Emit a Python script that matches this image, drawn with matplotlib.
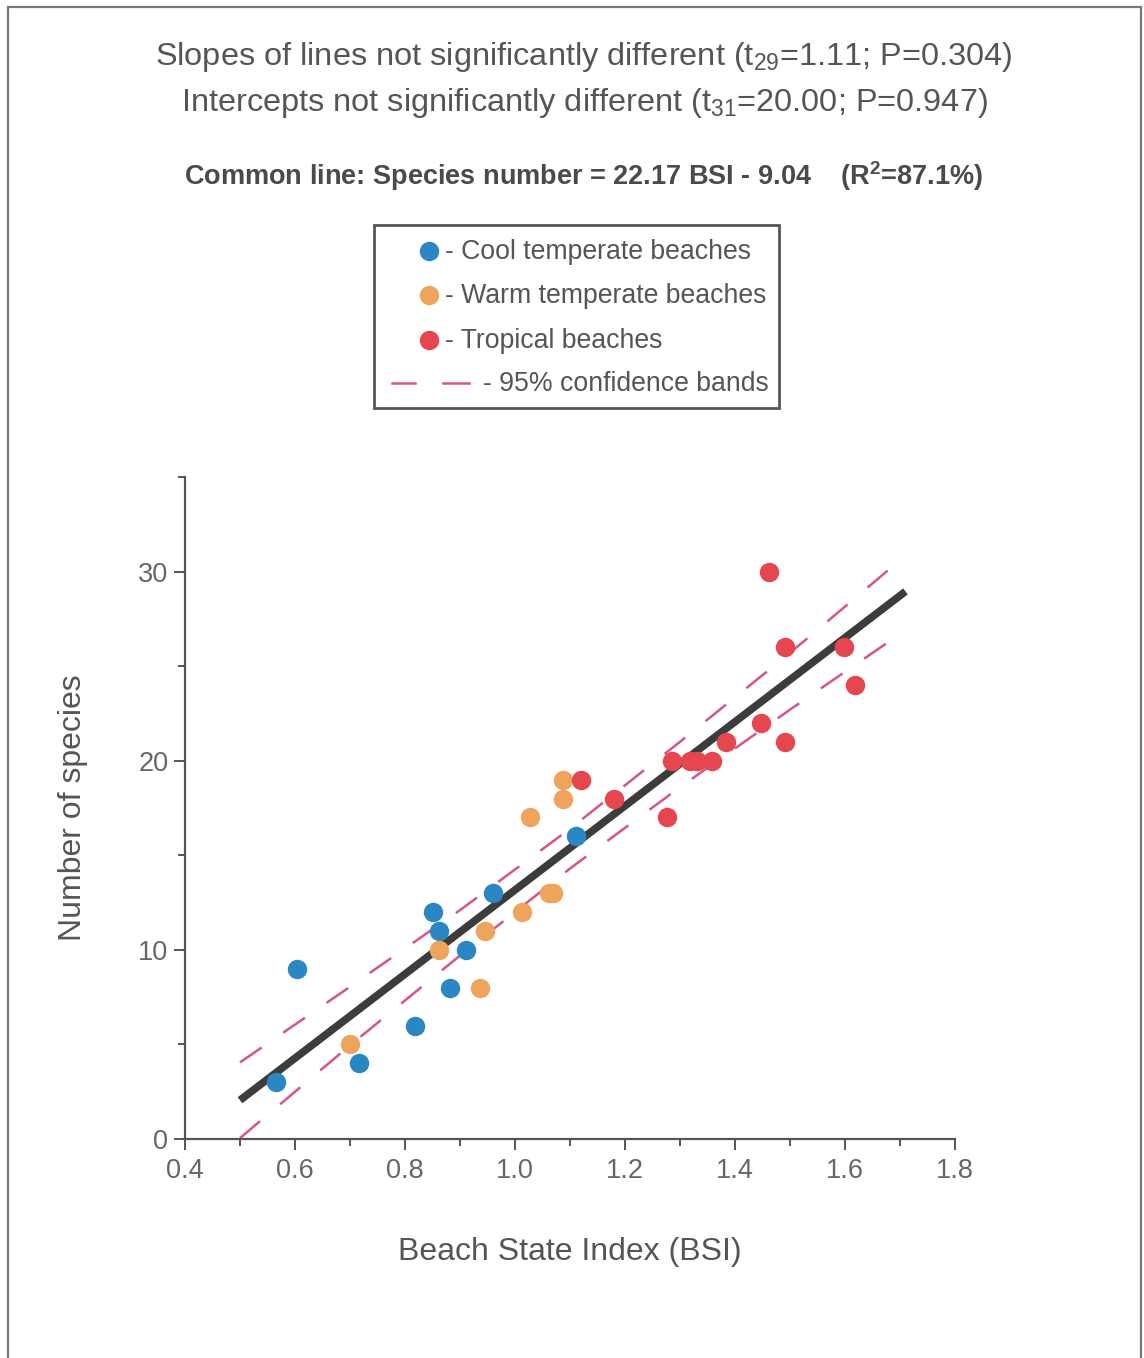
import matplotlib
matplotlib.use("Agg")
import matplotlib.pyplot as plt
from matplotlib.lines import Line2D
from matplotlib.patches import Rectangle
from matplotlib.ticker import MultipleLocator, FixedLocator

# ==================== data ====================
cool_bsi = [0.565, 0.604, 0.716, 0.818, 0.851, 0.862, 0.882, 0.911, 0.960, 1.111]
cool_species = [3, 9, 4, 6, 12, 11, 8, 10, 13, 16]

warm_bsi = [0.700, 0.862, 0.936, 0.945, 1.013, 1.062, 1.069, 1.027, 1.087, 1.087]
warm_species = [5, 10, 8, 11, 12, 13, 13, 17, 19, 18]

trop_bsi = [1.120, 1.180, 1.276, 1.285, 1.318, 1.330, 1.358, 1.384, 1.447, 1.462,
            1.491, 1.491, 1.598, 1.618]
trop_species = [19, 18, 17, 20, 20, 20, 20, 21, 22, 30, 26, 21, 26, 24]

# common line (Species number = 22.17 BSI - 9.04), end points as drawn
line_bsi = [0.50, 1.71]
line_species = [2.05, 28.95]

# 95% confidence bands
band_bsi = [0.5, 0.7, 0.9, 1.1, 1.3, 1.5, 1.7]
band_upper = [4.05, 8.05, 12.1, 16.4, 21.0, 25.7, 30.6]
band_lower = [0.05, 4.95, 9.7, 14.3, 18.6, 22.7, 26.7]

W, H = 1144, 1358
TXT = "#555555"
BLUE = "#2b87c4"
ORANGE = "#eea45c"
RED = "#e5464f"
PINK = "#d4548e"

plt.rcParams["font.family"] = ["Liberation Sans", "DejaVu Sans"]
plt.rcParams["mathtext.fontset"] = "custom"
plt.rcParams["mathtext.rm"] = "Liberation Sans"
plt.rcParams["mathtext.it"] = "Liberation Sans"
plt.rcParams["mathtext.bf"] = "Liberation Sans:bold"


def fx(x):
    return x / W


def fy(y):
    return 1 - y / H


fig = plt.figure(figsize=(W / 100, H / 100), dpi=100)
fig.patch.set_facecolor("white")

# outer frame
fig.add_artist(Rectangle((fx(8), fy(1400)), fx(1141) - fx(8), fy(7) - fy(1400),
                         transform=fig.transFigure, fill=False, edgecolor="#777777", lw=1.6))

# header text
fig.text(fx(584), fy(57), "Slopes of lines not significantly different (t$_{29}$=1.11; P=0.304)",
         ha="center", va="center", fontsize=23.4, color=TXT)
fig.text(fx(584), fy(103), "Intercepts not significantly different (t$_{31}$=20.00; P=0.947)",
         ha="center", va="center", fontsize=23.4, color=TXT)
fig.text(fx(584), fy(176), "Common line: Species number = 22.17 BSI - 9.04    (R$^{\\mathbf{2}}$=87.1%)",
         ha="center", va="center", fontsize=19.5, fontweight="bold", color="#4a4a4a")

# legend box, drawn by hand
fig.add_artist(Rectangle((fx(374), fy(408)), fx(779) - fx(374), fy(225) - fy(408),
                         transform=fig.transFigure, fill=False, edgecolor="#555555", lw=2))
leg_items = [(BLUE, "- Cool temperate beaches", 252),
             (ORANGE, "- Warm temperate beaches", 296),
             (RED, "- Tropical beaches", 341)]
for col, lab, yy in leg_items:
    fig.add_artist(Line2D([fx(429)], [fy(yy - 1)], transform=fig.transFigure, marker="o",
                          markersize=14, color=col, markeredgewidth=0, linestyle="none"))
    fig.text(fx(445), fy(yy), lab, ha="left", va="center", fontsize=19.2, color=TXT)
for x0, x1 in [(392, 415), (443, 469)]:
    fig.add_artist(Line2D([fx(x0), fx(x1)], [fy(383), fy(383)], transform=fig.transFigure,
                          color=PINK, lw=1.8))
fig.text(fx(483), fy(384), "- 95% confidence bands", ha="left", va="center", fontsize=19.2, color=TXT)

# ==================== the plot itself ====================
ax = fig.add_axes([fx(185), fy(1139), fx(955) - fx(185), fy(477) - fy(1139)])
ax.set_xlim(0.4, 1.8)
ax.set_ylim(0, 35)

ax.plot(band_bsi, band_upper, color=PINK, lw=1.8, dashes=(10.5, 10.5), zorder=2)
ax.plot(band_bsi, band_lower, color=PINK, lw=1.8, dashes=(10.5, 10.5), zorder=2)
ax.plot(line_bsi, line_species, color="#3c3c3c", lw=5.5, solid_capstyle="butt", zorder=2)

ax.plot(cool_bsi, cool_species, "o", color=BLUE, markersize=14, markeredgewidth=0, zorder=3)
ax.plot(warm_bsi, warm_species, "o", color=ORANGE, markersize=14, markeredgewidth=0, zorder=3)
ax.plot(trop_bsi, trop_species, "o", color=RED, markersize=14, markeredgewidth=0, zorder=3)

for s in ["top", "right"]:
    ax.spines[s].set_visible(False)
for s in ["left", "bottom"]:
    ax.spines[s].set_color("#555555")
    ax.spines[s].set_linewidth(1.6)

ax.xaxis.set_major_locator(MultipleLocator(0.2))
ax.xaxis.set_minor_locator(MultipleLocator(0.1))
ax.yaxis.set_major_locator(FixedLocator([0, 10, 20, 30]))
ax.yaxis.set_minor_locator(FixedLocator([5, 15, 25, 35]))
ax.set_xticklabels([f"{v:.1f}" for v in ax.get_xticks()])
ax.tick_params(which="major", length=8, width=1.4, color="#555555", labelcolor="#666666",
               labelsize=19.5, pad=6)
ax.tick_params(which="minor", length=5, width=1.4, color="#555555")
ax.tick_params(axis="y", which="major", pad=4)

ax.set_xlabel("Beach State Index (BSI)", fontsize=23, color=TXT, labelpad=38)
ax.set_ylabel("Number of species", fontsize=23, color=TXT, labelpad=36)

fig.savefig("out.png", dpi=100, facecolor="white")
